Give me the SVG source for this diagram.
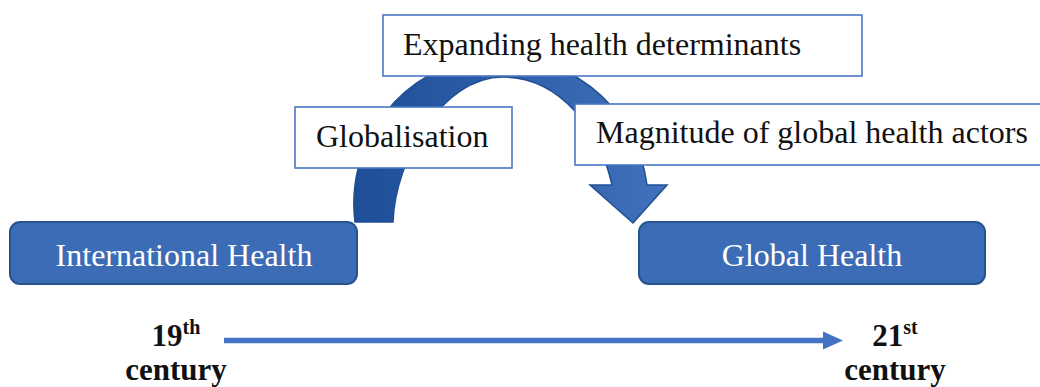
<svg xmlns="http://www.w3.org/2000/svg" width="1040" height="387" viewBox="0 0 1040 387">
<defs>
<style>
.hb{fill:#3D6CB6;stroke:#25538F;stroke-width:2}
.lb{fill:#fff;stroke:#4A76C4;stroke-width:1.6}
.ht{font-family:"Liberation Serif","Times New Roman",serif;font-size:32px;fill:#fff;text-anchor:middle}
.lt{font-family:"Liberation Serif","Times New Roman",serif;font-size:32px;fill:#111}
.ct{font-family:"Liberation Serif","Times New Roman",serif;font-size:31px;font-weight:bold;fill:#111;text-anchor:middle}
.sup{font-size:20px}
</style>
<linearGradient id="ag" gradientUnits="userSpaceOnUse" x1="355" y1="0" x2="667" y2="0">
<stop offset="0" stop-color="#1E4E98"/>
<stop offset="1" stop-color="#4271BB"/>
</linearGradient>
<marker id="ah" markerWidth="4" markerHeight="4" refX="0" refY="2" orient="auto" markerUnits="userSpaceOnUse" viewBox="0 0 4 4" overflow="visible">
<path d="M0,-7.2 L20,2 L0,11.2 Z" fill="#4472C4"/>
</marker>
</defs>
<g id="connectors">
<path id="curved-arrow" d="M355,222 A147,147 0 0 1 647,185 L667,185 L633,223 L590,185 L612,185 C600,130 560,77 503,77 C442,77 395,160 393,222 Z" fill="url(#ag)" stroke="#1F4F94" stroke-width="1.5" stroke-linejoin="miter"/>
<g id="timeline">
<line x1="224" y1="340.5" x2="823" y2="340.5" stroke="#4472C4" stroke-width="5.5"/>
<path d="M823,331.5 L843,340.5 L823,349.5 Z" fill="#4472C4"/>
</g>
</g>
<g id="node-international">
<rect class="hb" x="10" y="222" width="347" height="62" rx="10"/>
<text class="ht" x="184" y="266">International Health</text>
</g>
<g id="node-global">
<rect class="hb" x="639" y="222" width="346" height="62" rx="10"/>
<text class="ht" x="812" y="266">Global Health</text>
</g>
<g id="label-expanding">
<rect class="lb" x="383" y="15" width="479" height="61"/>
<text class="lt" x="403" y="55">Expanding health determinants</text>
</g>
<g id="label-globalisation">
<rect class="lb" x="295" y="107" width="217" height="61"/>
<text class="lt" x="316" y="147">Globalisation</text>
</g>
<g id="label-magnitude">
<rect class="lb" x="575" y="104" width="480" height="61"/>
<text class="lt" x="596" y="143">Magnitude of global health actors</text>
</g>
<g id="label-19th">
<text class="ct" x="176" y="346">19<tspan class="sup" dy="-12">th</tspan></text>
<text class="ct" x="176" y="380">century</text>
</g>
<g id="label-21st">
<text class="ct" x="895" y="346">21<tspan class="sup" dy="-12">st</tspan></text>
<text class="ct" x="895" y="380">century</text>
</g>
</svg>
